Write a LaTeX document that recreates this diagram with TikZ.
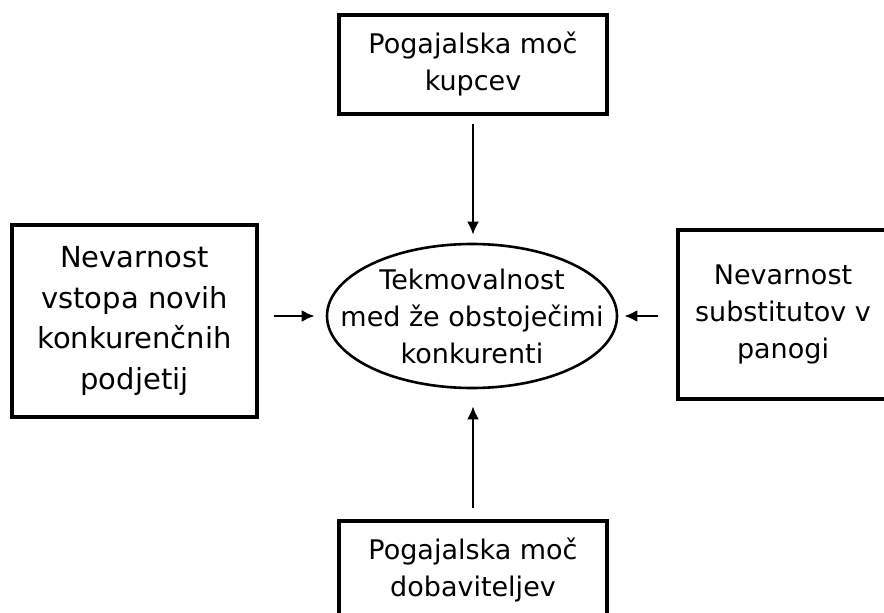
\documentclass[tikz,border=0pt]{standalone}
\usepackage{fontspec}
\setmainfont{DejaVu Sans}
\usetikzlibrary{positioning, shapes}
\usetikzlibrary{arrows.meta}

\begin{document}
\begin{tikzpicture}[x=1pt,y=-1pt,->,>={Latex[length=13pt,width=12pt]},line width=2.4pt]

		\useasboundingbox (0,0) rectangle (884,613);
		\tikzset{force/.style={rectangle,draw,line width=3.2pt,align=center,inner sep=0pt,font=\fontsize{27}{37}\selectfont}}

		\node[force,minimum width=268,minimum height=99] (buyers) at (473,64.5) {Pogajalska moč\\kupcev};
		\node[force,minimum width=245,minimum height=192,font=\fontsize{29}{40.5}\selectfont] (entrants) at (134.5,321) {Nevarnost\\vstopa novih\\konkurenčnih\\podjetij};
		\node[force,minimum width=210,minimum height=169] (subst) at (783,314.5) {Nevarnost\\substitutov v\\panogi};
		\node[force,minimum width=268,minimum height=99] (suppliers) at (473,570.5) {Pogajalska moč\\dobaviteljev};

		\node[ellipse,draw,line width=2.6pt,minimum width=290,minimum height=144,inner sep=0pt] (rivalry) at (472,316) {};
		\node[align=center,font=\fontsize{27}{37}\selectfont] (rivtext) at (rivalry) {Tekmovalnost\\med že obstoječimi\\konkurenti};

		\draw[shorten <=8pt,shorten >=8pt] (buyers.south) -- (buyers.south |- rivalry.north);
		\draw[shorten <=15pt,shorten >=11pt] (entrants.east |- rivalry.west) -- (rivalry.west);
		\draw[shorten <=18pt,shorten >=6pt] (subst.west |- rivalry.east) -- (rivalry.east);
		\draw[shorten <=11pt,shorten >=17pt] (suppliers.north) -- (suppliers.north |- rivalry.south);

	\end{tikzpicture}
\end{document}
